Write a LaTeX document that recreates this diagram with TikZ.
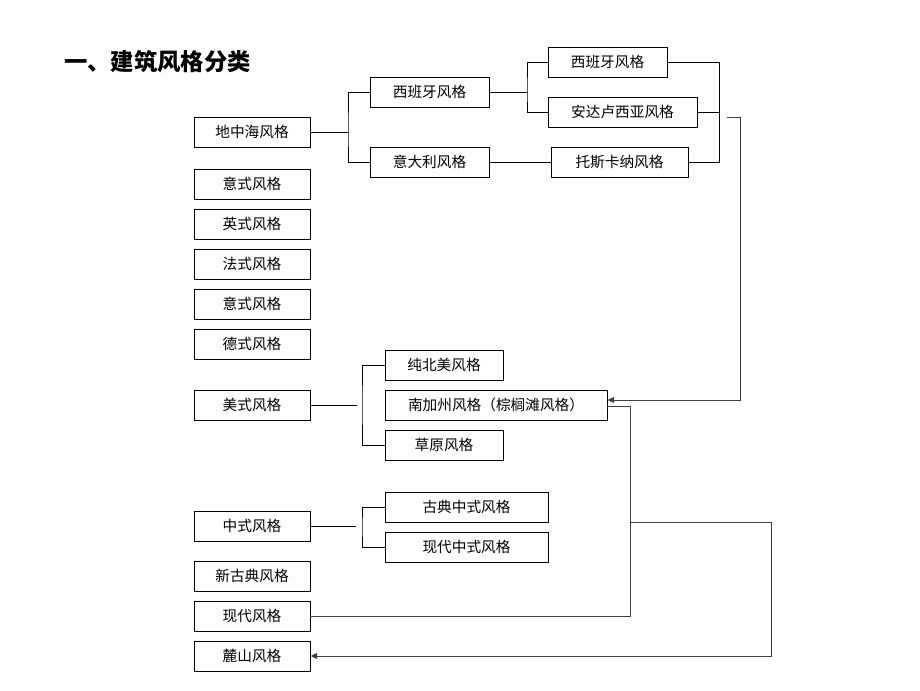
\documentclass[tikz,border=0pt]{standalone}
\usepackage{fontspec}
\setmainfont{Noto Sans CJK SC}
\usetikzlibrary{arrows.meta}

\tikzset{
	box/.style={draw=black, line width=0.7pt, minimum height=22.5pt, inner sep=0pt, font=\fontsize{11}{13}\selectfont},
	wbox/.style={box, minimum width=87pt},
	link/.style={draw=black, line width=0.7pt},
	longlink/.style={draw=black!75, line width=0.7pt},
	tip/.style={-{Triangle[length=5pt,width=4.5pt]}}
}

\begin{document}
\begin{tikzpicture}[x=0.75pt,y=-0.75pt]
	
	\useasboundingbox (0,0) rectangle (920,690);
	
	\node[anchor=west, inner sep=0pt, font=\fontsize{17.5}{20}\selectfont\bfseries] (title) at (64,62) {一、建筑风格分类};
	
	\node[wbox] (dzh) at (252,132) {地中海风格};
	\node[wbox] (ys1) at (252,184) {意式风格};
	\node[wbox] (yings) at (252,224) {英式风格};
	\node[wbox] (fs) at (252,264) {法式风格};
	\node[wbox] (ys2) at (252,304) {意式风格};
	\node[wbox] (ds) at (252,344) {德式风格};
	\node[wbox] (ms) at (252,405) {美式风格};
	\node[wbox] (zs) at (252,526) {中式风格};
	\node[wbox] (xgd) at (252,576) {新古典风格};
	\node[wbox] (xd) at (252,616) {现代风格};
	\node[wbox] (ls) at (252,656) {麓山风格};
	
	\node[box, minimum width=89.25pt] (xby) at (429.5,92) {西班牙风格};
	\node[box, minimum width=89.25pt] (ydl) at (429.5,162) {意大利风格};
	\node[box, minimum width=89.25pt] (xbt) at (607.5,62) {西班牙风格};
	\node[box, minimum width=111.75pt] (adl) at (622.5,112) {安达卢西亚风格};
	\node[box, minimum width=102.75pt] (tsk) at (619.5,162) {托斯卡纳风格};
	
	\node[box, minimum width=88.5pt] (cbm) at (444,365) {纯北美风格};
	\node[box, minimum width=166.5pt] (njz) at (496,405) {南加州风格（棕榈滩风格）};
	\node[box, minimum width=88.5pt] (cy) at (444,445) {草原风格};
	
	\node[box, minimum width=122.25pt] (gdzs) at (466.5,507) {古典中式风格};
	\node[box, minimum width=122.25pt] (xdzs) at (466.5,547) {现代中式风格};
	
	\coordinate (j1) at (348,132);
	\coordinate (j2) at (527,92);
	\coordinate (j3) at (719,112);
	\coordinate (jm) at (362,405);
	\coordinate (jm-end) at (357,405);
	\coordinate (jz) at (362,527);
	\coordinate (jz-end) at (356,526);
	\coordinate (a1) at (727,117);
	\coordinate (b1) at (630,522);
	
	\draw[link] (dzh.east) -- (j1);
	\draw[link] (xby.west) -| (j1) |- (ydl.west);
	\draw[link] (xby.east) -- (j2);
	\draw[link] (xbt.west) -| (j2) |- (adl.west);
	\draw[link] (ydl) -- (tsk);
	\draw[link] (xbt.east) -| (j3) |- (tsk.east);
	\draw[link] (adl.east) -- (j3);
	
	\draw[link] (ms.east) -- (jm-end);
	\draw[link] (cbm.west) -| (jm) |- (cy.west);
	\draw[link] (zs.east) -- (jz-end);
	\draw[link] (gdzs.west) -| (jz) |- (xdzs.west);
	
	\draw[longlink, tip] (a1) -- (740,117) |- ([yshift=3.75pt]njz.east);
	\draw[longlink] (xd.east) -| (630,406) -- ([yshift=-0.75pt]njz.east);
	\draw[longlink, tip] (b1) -- (771,522) |- (ls.east);
	
\end{tikzpicture}
\end{document}
